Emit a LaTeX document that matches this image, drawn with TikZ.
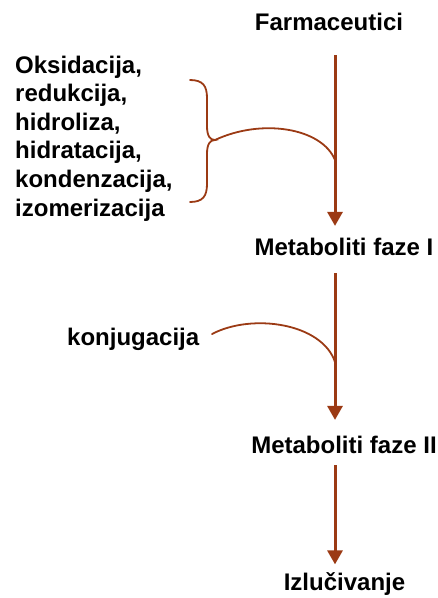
\documentclass[tikz,border=0pt]{standalone}
\usepackage{fontspec}
\setmainfont{Liberation Sans}
\usetikzlibrary{arrows.meta}
\definecolor{brn}{RGB}{155,58,20}
\begin{document}
\begin{tikzpicture}[x=1pt,y=-1pt,
  lbl/.style={font=\fontsize{24}{28.6}\selectfont\bfseries, inner sep=0pt, text=black},
  arr/.style={draw=brn, line width=3pt, -{Triangle[width=15pt,length=14pt]}},
  thin/.style={draw=brn, line width=1.8pt, line cap=round}]
\useasboundingbox (0,0) rectangle (438,598);
\coordinate (ax) at (335,0);
\node[lbl, anchor=base] (farm) at (329,30) {Farmaceutici};
\node[lbl, anchor=base] (m1) at (344,255) {Metaboliti faze I};
\node[lbl, anchor=base] (m2) at (344,453) {Metaboliti faze II};
\node[lbl, anchor=base] (izl) at (344.5,590) {Izlučivanje};
\node[lbl, anchor=north west, align=left] (reak) at (15,55.5) {Oksidacija,\\redukcija,\\hidroliza,\\hidratacija,\\kondenzacija,\\izomerizacija};
\node[lbl, anchor=base west] (konj) at (67,345) {konjugacija};
% main arrows
\draw[arr, shorten <=25pt, shorten >=11.5pt] (farm.south -| ax) -- (m1.north -| ax);
\draw[arr, shorten <=18pt, shorten >=15.5pt] (m1.south -| ax) -- (m2.north -| ax);
\draw[arr, shorten <=12pt, shorten >=7.5pt] (m2.south -| ax) -- (izl.north -| ax);
% brace
\coordinate (btip) at (215,140);
\draw[thin] (190,80) .. controls (203,80) and (207,86) .. (207,98)
  -- (207,126) .. controls (207,136) and (210,140) .. (btip)
  .. controls (210,140) and (207,144) .. (207,154)
  -- (207,184) .. controls (207,196) and (203,202) .. (190,202);
\coordinate (j1) at (335,160);
\draw[thin] (btip) .. controls (262,118) and (322,128) .. (j1);
\coordinate (k0) at (212,334);
\coordinate (j2) at (335,362);
\draw[thin] (k0) .. controls (252,313) and (322,323) .. (j2);
\end{tikzpicture}
\end{document}
